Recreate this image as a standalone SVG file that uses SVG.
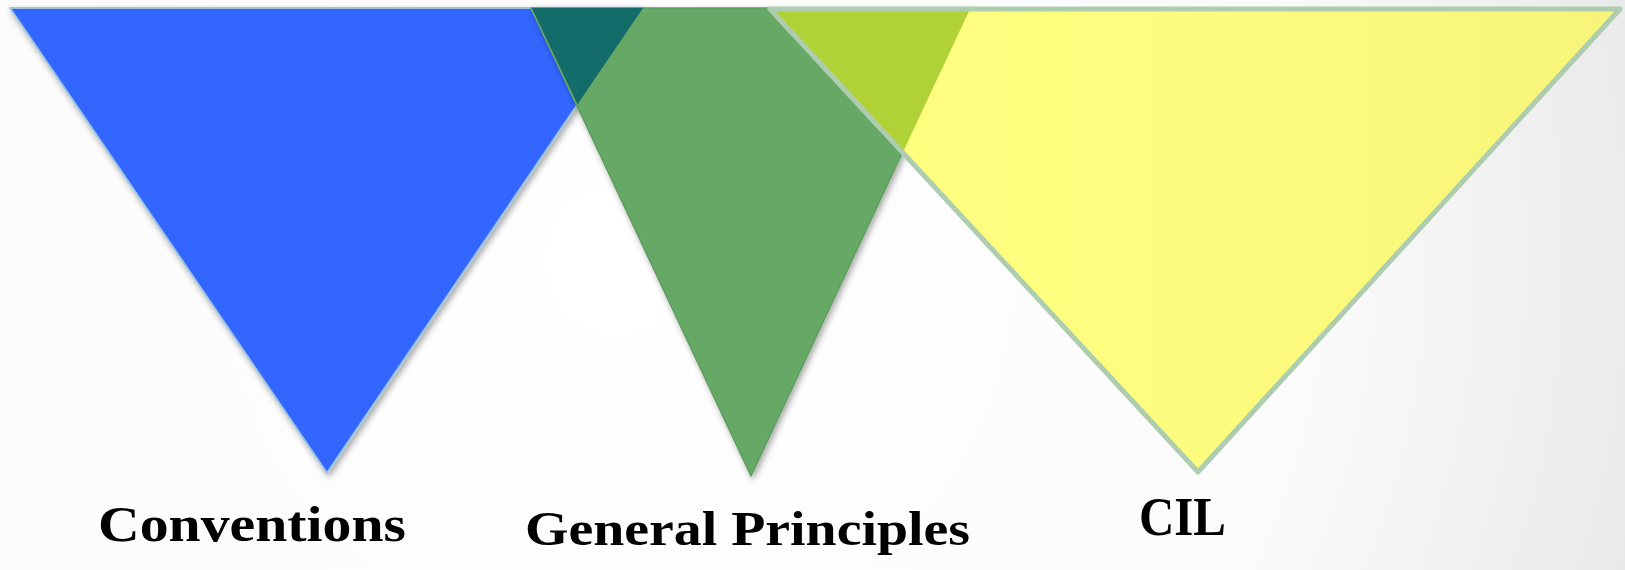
<svg xmlns="http://www.w3.org/2000/svg" width="1625" height="570" viewBox="0 0 1625 570">
  <defs>
    <radialGradient id="bg" cx="620" cy="260" r="1150" gradientUnits="userSpaceOnUse">
      <stop offset="0" stop-color="#ffffff"/>
      <stop offset="0.6" stop-color="#fbfbfb"/>
      <stop offset="1" stop-color="#e4e4e4"/>
    </radialGradient>
    <linearGradient id="yel" x1="770" y1="0" x2="1620" y2="0" gradientUnits="userSpaceOnUse">
      <stop offset="0" stop-color="#ffff80"/>
      <stop offset="0.5" stop-color="#fdfc7e"/>
      <stop offset="1" stop-color="#f7f579"/>
    </linearGradient>
    <filter id="shadow" x="-10%" y="-10%" width="130%" height="130%">
      <feDropShadow dx="2" dy="3" stdDeviation="3" flood-color="#000" flood-opacity="0.35"/>
    </filter>
    <style>
      .label { font-family: "Liberation Serif", "Times New Roman", serif; font-weight: bold; fill: #000; }
    </style>
  </defs>
  <rect width="1625" height="570" fill="url(#bg)"/>

  <g id="conventions">
    <polygon points="10,8 643,8 327,473" fill="#3366ff" stroke="#9cc3e0" stroke-width="2" stroke-linejoin="round" filter="url(#shadow)"/>
    <text class="label" x="98" y="541" font-size="50" textLength="308" lengthAdjust="spacingAndGlyphs">Conventions</text>
  </g>

  <g id="general-principles">
    <polygon points="531,8 970,8 751,476" fill="#66a866" stroke="#5f9d5f" stroke-width="1.5" stroke-linejoin="round" filter="url(#shadow)"/>
    <polygon points="531,8 643,8 577,105" fill="#136b6a"/>
    <line x1="531" y1="8" x2="577" y2="105" stroke="#6aa86a" stroke-width="1.5"/>
    <text class="label" x="525" y="545" font-size="48" textLength="445" lengthAdjust="spacingAndGlyphs">General Principles</text>
  </g>

  <g id="cil">
    <polygon points="770,9 1620,9 1198,472" fill="url(#yel)"/>
    <polygon points="770,9 970,9 903,152" fill="#b0d236"/>
    <polygon points="770,9 1620,9 1198,472" fill="none" stroke="#aecdaf" stroke-width="5" stroke-linejoin="round"/>
    <text class="label" x="1139" y="535" font-size="55" textLength="87" lengthAdjust="spacingAndGlyphs">CIL</text>
  </g>

  <g id="connectors"/>
</svg>
